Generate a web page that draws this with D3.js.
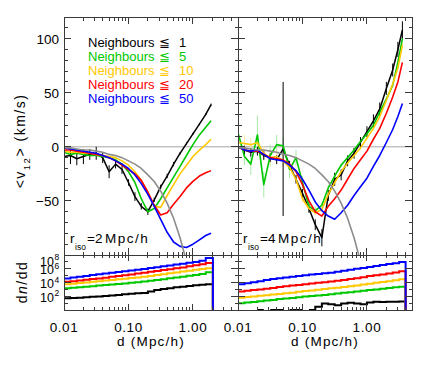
<!DOCTYPE html>
<html>
<head>
<meta charset="utf-8">
<script src="https://cdn.jsdelivr.net/npm/d3@7"></script>
<style>
body{margin:0;background:#fff;}
text{font-family:"Liberation Sans",Arial,sans-serif;fill:#000;}
</style>
</head>
<body>
<svg id="chart" width="432" height="365"></svg>
<script>
// bin centres in d (Mpc/h)
const dLeft = [0.0100,0.0126,0.0158,0.0200,0.0251,0.0316,0.0398,0.0501,0.0631,0.0794,0.100,0.126,0.158,0.200,0.251,0.316,0.398,0.501,0.631,0.794,1.00,1.26,1.58,1.91];
const dRight = [0.0100,0.0126,0.0158,0.0200,0.0251,0.0316,0.0398,0.0501,0.0631,0.0794,0.100,0.126,0.158,0.200,0.251,0.316,0.398,0.501,0.631,0.794,1.00,1.26,1.58,2.00,2.51,3.02,3.55];

// <v12> (km/s), r_iso = 2 Mpc/h
const blackL  = [-9,-8,-11,-9,-7,-6,-10,-23,-16,-21,-33,-46,-55,-60,-49,-37,-27,-16,-6,3,12,21,30,39];
const blackErrL = [7,8,6,7,5,6,5,6,4,4,3,4,3,3,2,2,2,2,1,1,1,1,1,1];
const greenL  = [-5,-7,-6,-7,-8,-8,-9,-10,-12,-16,-23,-33,-48,-60,-57,-48,-38,-28,-18,-8,2,11,18,24];
const yellowL = [-4,-5,-5,-6,-6,-7,-8,-9,-10,-13,-17,-23,-31,-42,-55,-56,-45,-35,-25,-17,-9,-3,2,7];
const redL    = [-3,-3,-4,-5,-6,-7,-8,-10,-13,-17,-21,-25,-31,-42,-54,-63,-61,-53,-46,-38,-32,-27,-24,-22];
const blueL   = [-1,-2,-3,-4,-5,-6,-8,-10,-13,-16,-20,-26,-34,-44,-55,-67,-79,-88,-92,-93,-90,-86,-82,-80];

// <v12> (km/s), r_iso = 4 Mpc/h
const blackR  = [0,-3,-5,-4,-8,-10,-12,-2,-17,-30,-43,-57,-72,-84,-45,-30,-26,-13,-6,4,14,24,35,54,71,90,108];
const blackErrR = [4,4,4,4,4,4,4,62,4,4,4,4,5,8,5,6,5,5,5,5,5,6,6,6,6,7,8];
const greenR  = [13,-9,-16,11,-35,-8,2,1,-21,-10,-33,-55,-59,-54,-38,-27,-17,-10,-3,5,12,20,32,44,57,78,100];
const greenErrR = [12,8,10,18,12,10,9,8,8,7,6,5,4,3,3,2,2,2,2,2,2,2,2,2,2,2,2];
const yellowR = [4,3,2,4,-6,-10,-9,-13,-19,-30,-48,-57,-61,-58,-44,-33,-23,-15,-8,-1,8,17,28,43,58,73,94];
const yellowErrR = [6,8,6,8,7,6,6,5,4,3,3,2,2,2,2,2,2,2,2,2,2,2,2,2,2,2,2];
const redR    = [0,-3,-4,-4,-7,-10,-11,-12,-16,-23,-35,-50,-60,-64,-55,-48,-40,-30,-20,-12,-4,7,17,31,46,60,78];
const blueR   = [0,-3,-4,-3,-7,-11,-12,-13,-17,-22,-30,-40,-51,-59,-64,-67,-61,-54,-45,-37,-29,-18,-8,4,16,28,40];

// grey reference curve (same in both panels)
const dGray = [0.0100,0.0126,0.0158,0.0200,0.0251,0.0316,0.0398,0.0501,0.0631,0.0794,0.100,0.126,0.158,0.200,0.251,0.316,0.398,0.501,0.631,0.794,1.00];
const grayV = [-1,-1,-2,-3,-3,-4,-5,-7,-8,-10,-13,-16,-20,-26,-32,-41,-52,-66,-84,-106,-135];

// histogram bin edges and log10(dn/dd)
const edgesLeft = [0.0100,0.0126,0.0158,0.0200,0.0251,0.0316,0.0398,0.0501,0.0631,0.0794,0.100,0.126,0.158,0.200,0.251,0.316,0.398,0.501,0.631,0.794,1.00,1.26,1.58,2.04];
const edgesRight = [0.0100,0.0126,0.0158,0.0200,0.0251,0.0316,0.0398,0.0501,0.0631,0.0794,0.100,0.126,0.158,0.200,0.251,0.316,0.398,0.501,0.631,0.794,1.00,1.26,1.58,2.00,2.51,3.16,3.98];

const histBlackL  = [1.70,1.75,1.80,1.86,1.92,1.98,2.05,2.12,2.20,2.28,2.36,2.42,2.48,2.70,2.90,3.05,3.18,3.30,3.40,3.50,3.60,3.68,3.74];
const histGreenL  = [3.15,3.23,3.31,3.39,3.47,3.55,3.63,3.71,3.79,3.87,3.95,4.03,4.13,4.25,4.37,4.49,4.61,4.73,4.85,4.97,5.10,5.25,5.48];
const histYellowL = [3.74,3.83,3.92,4.01,4.10,4.19,4.28,4.37,4.46,4.55,4.64,4.73,4.82,4.95,5.08,5.21,5.34,5.47,5.60,5.72,5.84,5.95,6.06];
const histRedL    = [4.10,4.20,4.30,4.40,4.50,4.60,4.70,4.82,4.94,5.06,5.18,5.30,5.42,5.55,5.68,5.81,5.94,6.07,6.20,6.35,6.50,6.65,6.85];
const histBlueL   = [4.60,4.72,4.84,4.96,5.08,5.20,5.32,5.43,5.54,5.65,5.76,5.87,5.98,6.10,6.22,6.35,6.48,6.61,6.74,6.87,7.00,7.15,7.55];

const histBlackR  = [null,null,null,0,null,0,0,null,0,0,null,0,0.48,0.95,0.85,0.70,0.95,1.04,0.95,0.85,1.08,1.20,1.18,1.20,1.20,1.23];
const histGreenR  = [1.00,1.08,1.17,1.27,1.37,1.45,1.60,1.68,1.76,1.86,1.95,2.03,2.12,2.20,2.28,2.40,2.50,2.60,2.70,2.80,2.90,3.00,3.10,3.20,3.30,3.39];
const histYellowR = [1.80,1.88,1.97,2.06,2.15,2.24,2.33,2.42,2.50,2.65,2.75,2.85,2.95,3.05,3.15,3.25,3.35,3.45,3.57,3.70,3.82,3.95,4.08,4.20,4.33,4.47];
const histRedR    = [2.70,2.80,2.90,3.00,3.10,3.20,3.35,3.45,3.55,3.65,3.75,3.85,3.95,4.05,4.13,4.25,4.38,4.50,4.62,4.75,4.93,5.05,5.18,5.30,5.45,5.62];
const histBlueR   = [3.75,3.90,4.05,4.20,4.36,4.50,4.62,4.72,4.82,4.93,5.05,5.15,5.25,5.33,5.42,5.55,5.70,5.85,6.00,6.10,6.25,6.40,6.55,6.70,6.80,7.00];

const legendN = [1, 5, 10, 20, 50];
const colors = ["#000000", "#00c800", "#ffc800", "#ff0000", "#0000ff"];

const yTickLabels = [100, 50, 0, -50];
const histTickLabels = [2, 4, 6, 8];
const xTickLabels = [0.01, 0.1, 1];

const svg = d3.select("#chart");
const defs = svg.append("defs");

const xL = d3.scaleLog().domain([0.01, 5]).range([64, 238]);
const xR = d3.scaleLog().domain([0.01, 5]).range([238, 412]);
const yTop = d3.scaleLinear().domain([-100, 120]).range([255, 17]);
const yBot = d3.scaleLinear().domain([0, 8]).range([310, 255]);

function clip(id, x0, y0, w, h){
	defs.append("clipPath").attr("id", id)
		.append("rect").attr("x", x0).attr("y", y0).attr("width", w).attr("height", h);
}
clip("cTL", 64, 17, 174, 238);
clip("cTR", 238, 17, 174, 238);
clip("cBL", 64, 255, 174, 57);
clip("cBR", 238, 255, 174, 57);

function errBars(g, x, d, v, err, color){
	g.append("g").selectAll("line")
		.data(d.map((dd, i) => ({d: dd, v: v[i], e: err[i]})))
		.enter().append("line")
		.attr("x1", p => x(p.d)).attr("x2", p => x(p.d))
		.attr("y1", p => yTop(p.v - p.e)).attr("y2", p => yTop(p.v + p.e))
		.attr("stroke", color).attr("stroke-width", 1);
}

function curve(g, x, d, v, color, w){
	let line = d3.line().x(p => x(p[0])).y(p => yTop(p[1]));
	g.append("path")
		.attr("d", line(d.map((dd, i) => [dd, v[i]])))
		.attr("fill", "none").attr("stroke", color)
		.attr("stroke-width", w).attr("stroke-linejoin", "round");
}

function drawTop(x, clipId, d, series, blackErr, light){
	let g = svg.append("g").attr("clip-path", "url(#" + clipId + ")");
	let r = x.range();
	g.append("line").attr("x1", r[0]).attr("x2", r[1])
		.attr("y1", yTop(0)).attr("y2", yTop(0))
		.attr("stroke", "#a6a6a6").attr("stroke-width", 1);
	//light error bars of the noisy samples
	light.forEach(l => errBars(g, x, d, l.v, l.e, l.color));
	curve(g, x, d, series[0], colors[0], 1.5);
	errBars(g, x, d, series[0], blackErr, "#000");
	for(let i = 1; i < series.length; i++){
		curve(g, x, d, series[i], colors[i], 1.6);
	}
	curve(g, x, dGray, grayV, "#8c8c8c", 1.6);
}

function drawHist(x, clipId, edges, hists){
	let g = svg.append("g").attr("clip-path", "url(#" + clipId + ")");
	let line = d3.line().x(p => x(p[0])).y(p => yBot(p[1])).defined(p => p[1] != null);
	hists.forEach((h, c) => {
		let pts = [];
		h.forEach((v, k) => { pts.push([edges[k], v]); pts.push([edges[k+1], v]); });
		pts.push([edges[h.length], 0]);
		g.append("path").attr("d", line(pts))
			.attr("fill", "none").attr("stroke", colors[c]).attr("stroke-width", 2);
	});
}

function isMajor(t){
	let l = Math.log10(t);
	return Math.abs(l - Math.round(l)) < 1e-6;
}

function frame(x, y, top, bottom, yMaj, yMin, xLen){
	let r = x.range();
	let g = svg.append("g").attr("stroke", "#3a3a3a").attr("stroke-width", 1)
		.attr("shape-rendering", "crispEdges");
	g.append("rect").attr("x", r[0]).attr("y", top)
		.attr("width", r[1] - r[0]).attr("height", bottom - top).attr("fill", "none");
	let xt = x.ticks().filter(t => t > 0.0100001 && t < 4.99);
	g.selectAll(".xtt").data(xt).enter().append("line")
		.attr("x1", t => x(t)).attr("x2", t => x(t))
		.attr("y1", top).attr("y2", t => top + (isMajor(t) ? xLen[0] : xLen[1]));
	g.selectAll(".xtb").data(xt).enter().append("line")
		.attr("x1", t => x(t)).attr("x2", t => x(t))
		.attr("y1", bottom).attr("y2", t => bottom - (isMajor(t) ? xLen[0] : xLen[1]));
	let yt = yMaj.map(v => ({v: v, L: 7})).concat(yMin.map(v => ({v: v, L: 3.5})));
	g.selectAll(".ytl").data(yt).enter().append("line")
		.attr("x1", r[0]).attr("x2", t => r[0] + t.L)
		.attr("y1", t => y(t.v)).attr("y2", t => y(t.v));
	g.selectAll(".ytr").data(yt).enter().append("line")
		.attr("x1", r[1]).attr("x2", t => r[1] - t.L)
		.attr("y1", t => y(t.v)).attr("y2", t => y(t.v));
}

drawTop(xL, "cTL", dLeft, [blackL, greenL, yellowL, redL, blueL], blackErrL, []);
drawTop(xR, "cTR", dRight, [blackR, greenR, yellowR, redR, blueR], blackErrR, [
	{v: greenR, e: greenErrR, color: "#a8e8a8"},
	{v: yellowR, e: yellowErrR, color: "#ffe9a0"}
]);
drawHist(xL, "cBL", edgesLeft, [histBlackL, histGreenL, histYellowL, histRedL, histBlueL]);
drawHist(xR, "cBR", edgesRight, [histBlackR, histGreenR, histYellowR, histRedR, histBlueR]);

let topMinor = d3.range(-90, 120, 10).filter(v => v % 50 != 0);
[xL, xR].forEach(x => {
	frame(x, yTop, 17, 255, [-50, 0, 50, 100], topMinor, [7, 3.5]);
	frame(x, yBot, 255, 310, [2, 4, 6], [1, 3, 5, 7], [6, 3]);
});

//legend
let leg = svg.append("g").style("font-size", "13px");
legendN.forEach((n, i) => {
	let t = leg.append("text").attr("y", 47 + 14*i).style("fill", colors[i]);
	t.append("tspan").attr("x", 88).text("Neighbours");
	t.append("tspan").attr("x", 159).text("\u2266");
	t.append("tspan").attr("x", 179).text(n);
});

//r_iso labels
[[xL, 70, 2], [xR, 243, 4]].forEach(a => {
	svg.append("text").attr("x", a[1]).attr("y", 243).style("font-size", "13.5px").text("r");
	svg.append("text").attr("x", a[1] + 5).attr("y", 250).style("font-size", "8.5px").text("iso");
	let t = svg.append("text").attr("y", 243).style("font-size", "13.5px");
	t.append("tspan").attr("x", a[1] + 17).text("=" + a[2]);
	t.append("tspan").attr("x", a[1] + 35).style("letter-spacing", "1.5px").text("Mpc/h");
});

//tick labels
svg.append("g").selectAll("text").data(yTickLabels).enter().append("text")
	.attr("x", 59).attr("y", v => yTop(v) + 5)
	.attr("text-anchor", "end").style("font-size", "13.5px")
	.text(v => v < 0 ? "\u2212" + Math.abs(v) : v);

let hl = svg.append("g").selectAll("g").data(histTickLabels).enter().append("g")
	.attr("transform", v => "translate(0," + (Math.max(yBot(v) + 1, 261) + 4.5) + ")");
hl.append("text").attr("x", 54).attr("text-anchor", "end").style("font-size", "12.5px").text("10");
hl.append("text").attr("x", 54.5).attr("y", -5.5).style("font-size", "8.5px").text(v => v);

[xL, xR].forEach(x => {
	svg.append("g").selectAll("text").data(xTickLabels).enter().append("text")
		.attr("x", v => x(v)).attr("y", 332)
		.attr("text-anchor", "middle").style("font-size", "13.5px")
		.style("letter-spacing", "0.6px")
		.text(v => d3.format(".2f")(v));
	let r = x.range();
	svg.append("text").attr("x", (r[0] + r[1])/2).attr("y", 346)
		.attr("text-anchor", "middle").style("font-size", "13.5px")
		.style("letter-spacing", "1.2px")
		.text("d (Mpc/h)");
});

//axis titles
let yt = svg.append("text").attr("transform", "translate(25,141) rotate(-90)")
	.attr("text-anchor", "middle").style("font-size", "14px").style("letter-spacing", "1.5px");
yt.append("tspan").text("<v");
yt.append("tspan").attr("dy", 5).style("font-size", "9.5px").text("12");
yt.append("tspan").attr("dy", -5).text(">  (km/s)");

let bt = svg.append("text").attr("transform", "translate(27,282) rotate(-90)")
	.attr("text-anchor", "middle").style("font-size", "14px").style("letter-spacing", "1.5px");
bt.append("tspan").text("d");
bt.append("tspan").style("font-style", "italic").text("n");
bt.append("tspan").text("/dd");
</script>
</body>
</html>
